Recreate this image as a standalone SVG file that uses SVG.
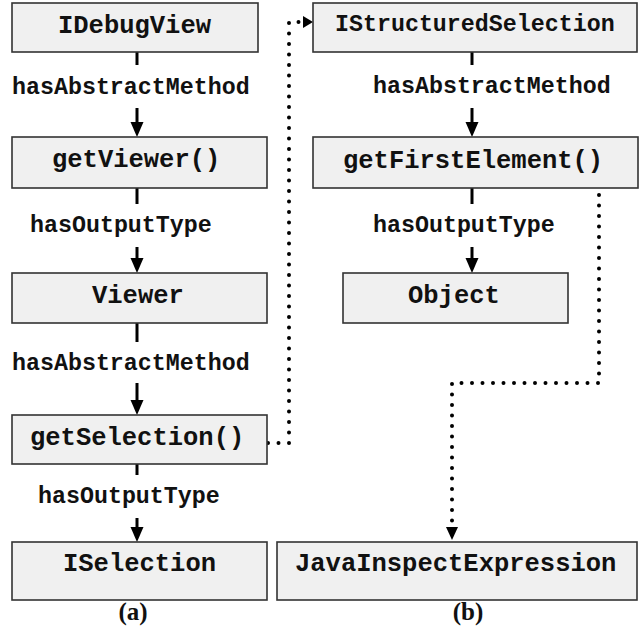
<svg xmlns="http://www.w3.org/2000/svg" width="641" height="632" viewBox="0 0 641 632">
<style>
.box{fill:#f0f0f0;stroke:#333;stroke-width:1.6}
.nt{font-family:"Liberation Mono","Courier New",monospace;font-weight:bold;font-size:25.5px;fill:#111}
.lb{font-family:"Liberation Mono","Courier New",monospace;font-weight:bold;font-size:23.3px;fill:#111}
.cap{font-family:"Liberation Serif","Times New Roman",serif;font-weight:bold;font-size:25px;fill:#111;text-anchor:middle}
.solid{stroke:#000;stroke-width:3;fill:none}
.dot{stroke:#000;stroke-width:4;fill:none;stroke-linecap:round;stroke-dasharray:0 10.5}
.head{fill:#000}
</style>
<rect width="641" height="632" fill="#fff"/>
<g id="connectors">
<line class="solid" x1="137" y1="52" x2="137" y2="65"/>
<line class="solid" x1="137" y1="108" x2="137" y2="124"/>
<polygon class="head" points="130.5,122 143.5,122 137,137"/>
<line class="solid" x1="137" y1="188" x2="137" y2="204"/>
<line class="solid" x1="137" y1="247" x2="137" y2="260"/>
<polygon class="head" points="130.5,258 143.5,258 137,273"/>
<line class="solid" x1="137" y1="323" x2="137" y2="342"/>
<line class="solid" x1="137" y1="383" x2="137" y2="402"/>
<polygon class="head" points="130.5,400 143.5,400 137,415"/>
<line class="solid" x1="137" y1="464" x2="137" y2="475"/>
<line class="solid" x1="137" y1="518" x2="137" y2="529"/>
<polygon class="head" points="130.5,527 143.5,527 137,542"/>
<line class="solid" x1="472" y1="52" x2="472" y2="65"/>
<line class="solid" x1="472" y1="108" x2="472" y2="124"/>
<polygon class="head" points="465.5,122 478.5,122 472,137"/>
<line class="solid" x1="472" y1="188" x2="472" y2="204"/>
<line class="solid" x1="472" y1="247" x2="472" y2="260"/>
<polygon class="head" points="465.5,258 478.5,258 472,273"/>
<path class="dot" d="M268,443 H289 V22 H300"/>
<polygon class="head" points="303,16 313,22 303,28"/>
<path class="dot" d="M599,195 V383 H452 V522"/>
<polygon class="head" points="446,527 458,527 452,540"/>
</g>
<g id="labels">
<text class="lb" x="12" y="94">hasAbstractMethod</text>
<text class="lb" x="30" y="232">hasOutputType</text>
<text class="lb" x="12" y="370">hasAbstractMethod</text>
<text class="lb" x="38" y="503">hasOutputType</text>
<text class="lb" x="373" y="93">hasAbstractMethod</text>
<text class="lb" x="373" y="232">hasOutputType</text>
</g>
<g id="IDebugView"><rect class="box" x="12" y="3" width="246" height="49"/><text class="nt" x="58" y="33">IDebugView</text></g>
<g id="getViewer"><rect class="box" x="12" y="137" width="255" height="51"/><text class="nt" x="52" y="167">getViewer()</text></g>
<g id="Viewer"><rect class="box" x="12" y="273" width="255" height="50"/><text class="nt" x="92" y="303">Viewer</text></g>
<g id="getSelection"><rect class="box" x="12" y="415" width="255" height="49"/><text class="nt" x="30" y="445">getSelection()</text></g>
<g id="ISelection"><rect class="box" x="12" y="542" width="255" height="58"/><text class="nt" x="63" y="571">ISelection</text></g>
<g id="IStructuredSelection"><rect class="box" x="313" y="3" width="324" height="49"/><text class="nt" x="335" y="31" style="font-size:23.3px">IStructuredSelection</text></g>
<g id="getFirstElement"><rect class="box" x="313" y="137" width="325" height="51"/><text class="nt" x="343" y="168">getFirstElement()</text></g>
<g id="Object"><rect class="box" x="343" y="273" width="225" height="50"/><text class="nt" x="408" y="303">Object</text></g>
<g id="JavaInspectExpression"><rect class="box" x="277" y="542" width="360" height="58"/><text class="nt" x="295" y="571">JavaInspectExpression</text></g>
<g id="captions">
<text class="cap" x="133" y="620">(a)</text>
<text class="cap" x="468" y="620">(b)</text>
</g>
</svg>
